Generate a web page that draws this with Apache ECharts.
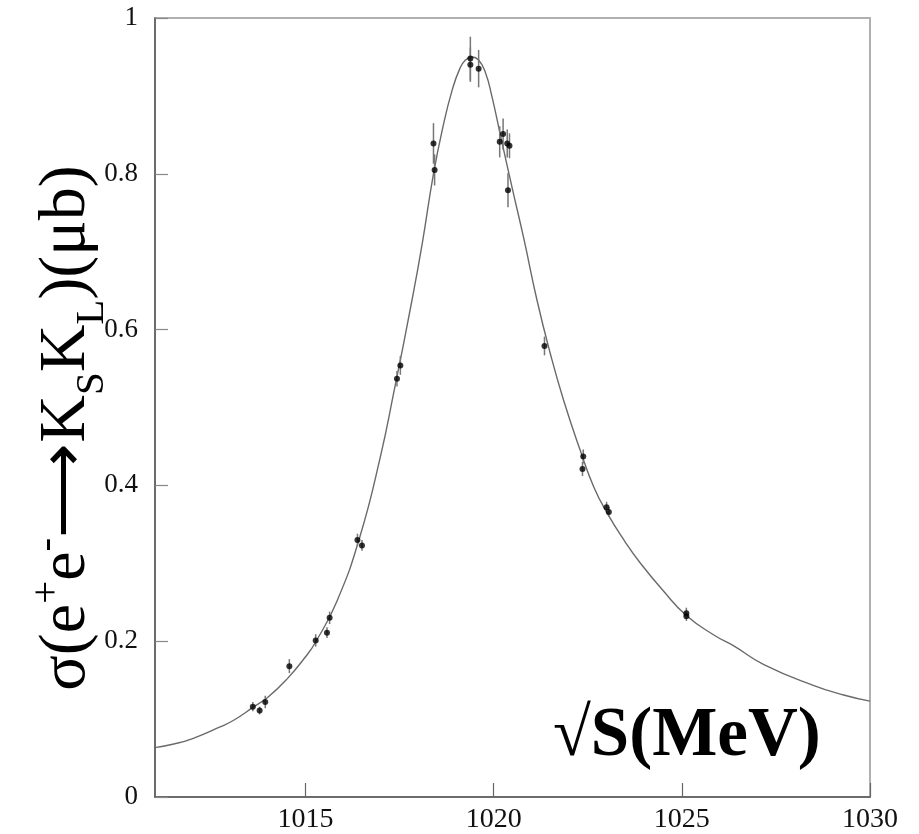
<!DOCTYPE html>
<html>
<head>
<meta charset="utf-8">
<script src="https://cdn.jsdelivr.net/npm/echarts@6/dist/echarts.min.js"></script>
<style>
html,body{margin:0;padding:0;background:#fff;}
#chart{width:919px;height:834px;}
</style>
</head>
<body>
<div id="chart"></div>
<script>
// Measured cross-section points (√s in MeV)
var pointX = [1013.60,1013.78,1013.93,1014.57,1015.27,1015.57,1015.64,1016.38,1016.50,1017.43,1017.52,1018.40,1018.43,1019.38,1019.38,1019.60,1020.16,1020.25,1020.36,1020.42,1020.38,1021.35,1022.38,1022.36,1023.00,1023.06,1025.12,1025.12];
var pointY = [0.116,0.111,0.122,0.168,0.201,0.211,0.230,0.330,0.323,0.537,0.554,0.839,0.805,0.948,0.940,0.935,0.841,0.851,0.839,0.836,0.779,0.579,0.437,0.421,0.372,0.366,0.236,0.232];
var pointErr = [0.006,0.005,0.008,0.009,0.008,0.007,0.008,0.008,0.007,0.010,0.012,0.026,0.020,0.028,0.022,0.024,0.020,0.020,0.018,0.016,0.022,0.012,0.009,0.009,0.007,0.006,0.007,0.006];

// Fit curve
var fitX = [1011,1011.5,1012,1012.73,1013.09,1013.62,1014,1014.5,1015,1015.27,1015.84,1016.45,1016.99,1017.34,1017.83,1018.1,1018.4,1018.65,1018.9,1019.1,1019.25,1019.42,1019.6,1019.78,1019.95,1020.2,1020.5,1020.8,1021.15,1021.5,1021.86,1022.3,1022.66,1023.02,1023.5,1023.9,1024.5,1025.12,1025.85,1026.38,1027.18,1028.51,1029.3,1030];
var fitY = [0.0634,0.068,0.075,0.090,0.0985,0.1156,0.128,0.151,0.180,0.199,0.252,0.335,0.437,0.518,0.638,0.71,0.80,0.860,0.908,0.935,0.946,0.950,0.946,0.930,0.900,0.845,0.78,0.717,0.638,0.57,0.509,0.445,0.398,0.364,0.327,0.300,0.265,0.233,0.208,0.194,0.170,0.143,0.131,0.123];

var xTicks = [1015,1020,1025,1030];
var yTicks = [0,0.2,0.4,0.6,0.8,1];
var xTitle = '√S(MeV)';

var points = pointX.map(function(x,i){return [x,pointY[i]];});
var errData = pointX.map(function(x,i){return [x,pointY[i],pointErr[i]];});
var fit = fitX.map(function(x,i){return [x,fitY[i]];});

var serif = '"Liberation Serif","Times New Roman",serif';
var chart = echarts.init(document.getElementById('chart'));
chart.setOption({
  animation:false,
  backgroundColor:'#fff',
  grid:{left:155,right:49,top:18,bottom:37,show:true,borderColor:'#b0b0b0',borderWidth:2,backgroundColor:'transparent'},
  xAxis:{
    type:'value',min:1011,max:1030,
    axisLine:{show:true,lineStyle:{color:'#555',width:1.5}},
    axisTick:{show:true,inside:true,length:14,customValues:xTicks,lineStyle:{color:'#666',width:1.2}},
    axisLabel:{customValues:xTicks,margin:9,fontFamily:serif,fontSize:28,color:'#111',formatter:function(v){return String(v);}},
    splitLine:{show:false}
  },
  yAxis:{
    type:'value',min:0,max:1,
    axisLine:{show:true,lineStyle:{color:'#555',width:1.5}},
    axisTick:{show:true,inside:true,length:13,customValues:yTicks,lineStyle:{color:'#888',width:1.2}},
    axisLabel:{customValues:yTicks,margin:17,fontFamily:serif,fontSize:27,color:'#111',formatter:function(v){return String(v);}},
    splitLine:{show:false}
  },
  series:[
    {type:'line',data:fit,showSymbol:false,smooth:0.5,lineStyle:{color:'#6a6a6a',width:1.4},z:2},
    {type:'custom',data:errData,z:3,
      renderItem:function(params,api){
        var x=api.value(0),y=api.value(1),e=api.value(2);
        var p1=api.coord([x,y-e]),p2=api.coord([x,y+e]);
        return {type:'line',shape:{x1:p1[0],y1:p1[1],x2:p2[0],y2:p2[1]},style:{stroke:'#777',lineWidth:1.5}};
      }},
    {type:'scatter',data:points,symbol:'circle',symbolSize:6,itemStyle:{color:'#000'},z:4}
  ],
  graphic:[
    {type:'text',x:70,y:428,rotation:Math.PI/2,z:10,
      style:{
        text:'{n|σ(e}{sup|+}{n|e}{sup|-}{n|⟶K}{sub|S}{n|K}{sub|L}{n|)(μb)}',
        align:'center',verticalAlign:'middle',
        rich:{
          n:{fontFamily:serif,fontSize:66,color:'#000',verticalAlign:'bottom',padding:[0,0,13,0]},
          sup:{fontFamily:serif,fontSize:41,color:'#000',verticalAlign:'bottom',padding:[0,0,45,0]},
          sub:{fontFamily:serif,fontSize:41,color:'#000',verticalAlign:'bottom',padding:[0,0,0,0]}
        }
      }},
    {type:'text',left:553,top:703,z:10,
      style:{text:xTitle,fontFamily:serif,fontWeight:'bold',fontSize:69,fill:'#000'}}
  ]
});
</script>
</body>
</html>
